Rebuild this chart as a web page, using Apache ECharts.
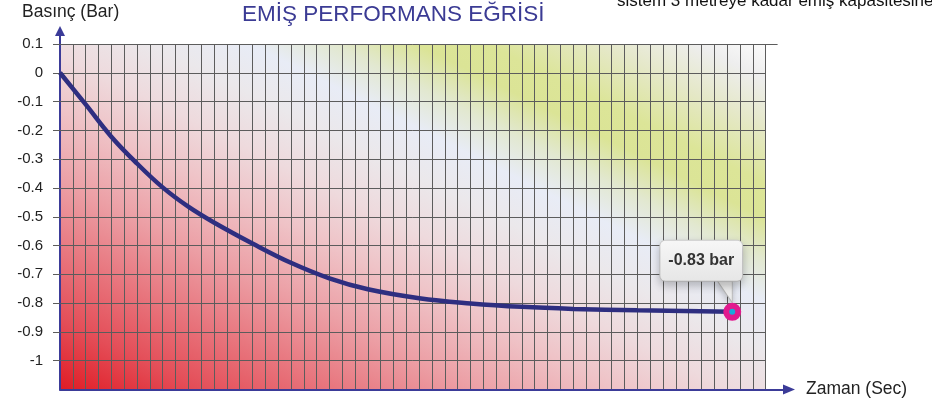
<!DOCTYPE html>
<html><head><meta charset="utf-8">
<script src="https://cdn.jsdelivr.net/npm/echarts@6/dist/echarts.min.js"></script>
<style>html,body{margin:0;padding:0;background:#fff}#c{width:932px;height:403px}</style>
</head><body><div id="c"></div>
<script>
// ---- data ----
const timeSec = [0, 2, 4, 6, 8, 10, 12, 15, 18, 21, 24, 28, 32, 36, 40, 45, 52.4];
const pressureBar = [0, -0.11, -0.222, -0.315, -0.398, -0.465, -0.52, -0.593, -0.66, -0.714, -0.752, -0.783, -0.801, -0.813, -0.82, -0.825, -0.83];
const yTickLabels = ['0.1', '0', '-0.1', '-0.2', '-0.3', '-0.4', '-0.5', '-0.6', '-0.7', '-0.8', '-0.9', '-1'];
const titleText = 'EMİŞ PERFORMANS EĞRİSİ';
const yName = 'Basınç (Bar)';
const xName = 'Zaman (Sec)';
const noteText = 'sistem 3 metreye kadar emiş kapasitesine';
const xMin = 0, xMax = 55, xMajor = 5;
const yMin = -1.1, yMax = 0.1, yStep = 0.1;

// ---- styles ----
const FONT = 'Liberation Sans, Arial, sans-serif';
const gridColor = '#5c5c5c';
const axisColor = '#3b3b98';
const lineColor = '#2e2e80';

const majorTicks = [];
for (let v = xMin + xMajor; v <= xMax; v += xMajor) majorTicks.push(v);
const yTicks = yTickLabels.map((s, i) => +(yMax - i * yStep).toFixed(1));

const chart = echarts.init(document.getElementById('c'), null, { renderer: 'canvas' });

const bg = new echarts.graphic.LinearGradient(0, 1, 0.396, -0.617, [
  { offset: 0.00, color: '#e01c25' },
  { offset: 0.10, color: '#e44e58' },
  { offset: 0.20, color: '#e8777f' },
  { offset: 0.30, color: '#eca0a6' },
  { offset: 0.40, color: '#efc3c7' },
  { offset: 0.48, color: '#eedadd' },
  { offset: 0.56, color: '#ebe8eb' },
  { offset: 0.63, color: '#e8ecf6' },
  { offset: 0.69, color: '#e2e8d0' },
  { offset: 0.75, color: '#dbe496' },
  { offset: 0.80, color: '#dce598' },
  { offset: 0.88, color: '#e5e8c8' },
  { offset: 0.95, color: '#eeeeee' },
  { offset: 1.00, color: '#fbfbfb' }
]);

const last = timeSec.length - 1;
const seriesData = timeSec.map((t, i) => {
  if (i === last) {
    return {
      value: [t, pressureBar[i]],
      symbol: 'circle',
      symbolSize: 12,
      itemStyle: { color: '#1aa8dc', borderColor: '#e2198e', borderWidth: 6 },
      label: {
        show: true,
        position: 'top',
        distance: 22,
        offset: [-31, 0],
        formatter: p => p.value[1].toFixed(2) + ' bar',
        fontFamily: FONT,
        fontSize: 16,
        fontWeight: 'bold',
        color: '#333',
        backgroundColor: new echarts.graphic.LinearGradient(0, 0, 0, 1, [
          { offset: 0, color: '#f7f7f7' }, { offset: 1, color: '#e6e6e6' }
        ]),
        borderColor: '#cfcfcf',
        borderWidth: 1,
        borderRadius: 5,
        padding: [12, 8, 12, 8],
        shadowColor: 'rgba(0,0,0,0.22)',
        shadowBlur: 8,
        shadowOffsetY: 4
      }
    };
  }
  return [t, pressureBar[i]];
});

const option = {
  animation: false,
  backgroundColor: '#ffffff',
  title: [
    { text: titleText, left: 242, top: 3, padding: 0,
      textStyle: { fontFamily: FONT, fontSize: 22.5, fontWeight: 'normal', color: '#3b3b94' } },
    { text: yName, left: 22, top: 3, padding: 0,
      textStyle: { fontFamily: FONT, fontSize: 17.5, fontWeight: 'normal', color: '#222' } },
    { text: xName, left: 806, top: 380, padding: 0,
      textStyle: { fontFamily: FONT, fontSize: 17.5, fontWeight: 'normal', color: '#222' } },
    { text: noteText, left: 617, top: -7, padding: 0,
      textStyle: { fontFamily: FONT, fontSize: 17, fontWeight: 'normal', color: '#111' } }
  ],
  grid: [
    { left: 60, top: 44, right: 166.4, bottom: 13.5, show: true, backgroundColor: bg, borderWidth: 0 },
    { left: 60, top: 31, right: 143, bottom: 13.5, show: false }
  ],
  xAxis: [
    { type: 'value', gridIndex: 0, min: xMin, max: xMax, interval: xMajor,
      axisLine: { show: false },
      axisLabel: { show: false },
      axisTick: { show: true, length: 13, customValues: majorTicks, lineStyle: { color: gridColor, width: 1 } },
      minorTick: { show: true, splitNumber: 5, length: 6, lineStyle: { color: gridColor, width: 1 } },
      splitLine: { show: true, lineStyle: { color: gridColor, width: 1 } },
      minorSplitLine: { show: true, lineStyle: { color: gridColor, width: 1 } } },
    { type: 'value', gridIndex: 0, position: 'top', min: xMin, max: xMax, interval: xMajor,
      axisLine: { show: false }, axisLabel: { show: false }, splitLine: { show: false },
      axisTick: { show: true, length: 13, customValues: [xMax], lineStyle: { color: gridColor, width: 1 } } },
    { type: 'value', gridIndex: 1, min: 0, max: 1,
      axisLine: { show: true, symbol: ['none', 'triangle'], symbolSize: [10, 12], lineStyle: { color: axisColor, width: 2 } },
      axisTick: { show: false }, axisLabel: { show: false }, splitLine: { show: false } }
  ],
  yAxis: [
    { type: 'value', gridIndex: 0, min: yMin, max: yMax, interval: yStep,
      axisLine: { show: false },
      axisTick: { show: true, length: 7, customValues: yTicks, lineStyle: { color: gridColor, width: 1 } },
      axisLabel: { show: true, margin: 17, fontFamily: FONT, fontSize: 15, color: '#222',
        formatter: v => { const i = Math.round((yMax - v) / yStep); return i < yTickLabels.length ? yTickLabels[i] : ''; } },
      splitLine: { show: true, lineStyle: { color: gridColor, width: 1 } } },
    { type: 'value', gridIndex: 0, position: 'right', min: yMin, max: yMax, interval: yStep,
      axisLine: { show: false }, axisLabel: { show: false }, splitLine: { show: false },
      axisTick: { show: true, length: 7, customValues: yTicks, lineStyle: { color: gridColor, width: 1 } } },
    { type: 'value', gridIndex: 0, position: 'right', min: yMin, max: yMax, interval: yStep,
      axisLine: { show: false }, axisLabel: { show: false }, splitLine: { show: false },
      axisTick: { show: true, length: 12, customValues: [yMax], lineStyle: { color: gridColor, width: 1 } } },
    { type: 'value', gridIndex: 1, min: 0, max: 1,
      axisLine: { show: true, symbol: ['none', 'triangle'], symbolSize: [10, 10], lineStyle: { color: axisColor, width: 2 } },
      axisTick: { show: false }, axisLabel: { show: false }, splitLine: { show: false } }
  ],
  series: [
    {
      type: 'line',
      xAxisIndex: 0, yAxisIndex: 0,
      data: seriesData,
      smooth: 0.4,
      symbol: 'none',
      showSymbol: true,
      lineStyle: { color: lineColor, width: 4.5 },
      itemStyle: { color: lineColor },
      z: 5,
      markPoint: {
        silent: true,
        symbol: 'path://M0,0L15,0L15,22Z',
        symbolSize: [15, 22],
        symbolOffset: [-7.5, -20],
        itemStyle: { color: '#f2f2f2', borderColor: '#b5b5b5', borderWidth: 1, shadowColor: 'rgba(0,0,0,0.2)', shadowBlur: 6, shadowOffsetY: 3 },
        label: { show: false },
        data: [{ coord: [timeSec[last], pressureBar[last]] }]
      }
    }
  ]
};
chart.setOption(option);
</script>
</body></html>
